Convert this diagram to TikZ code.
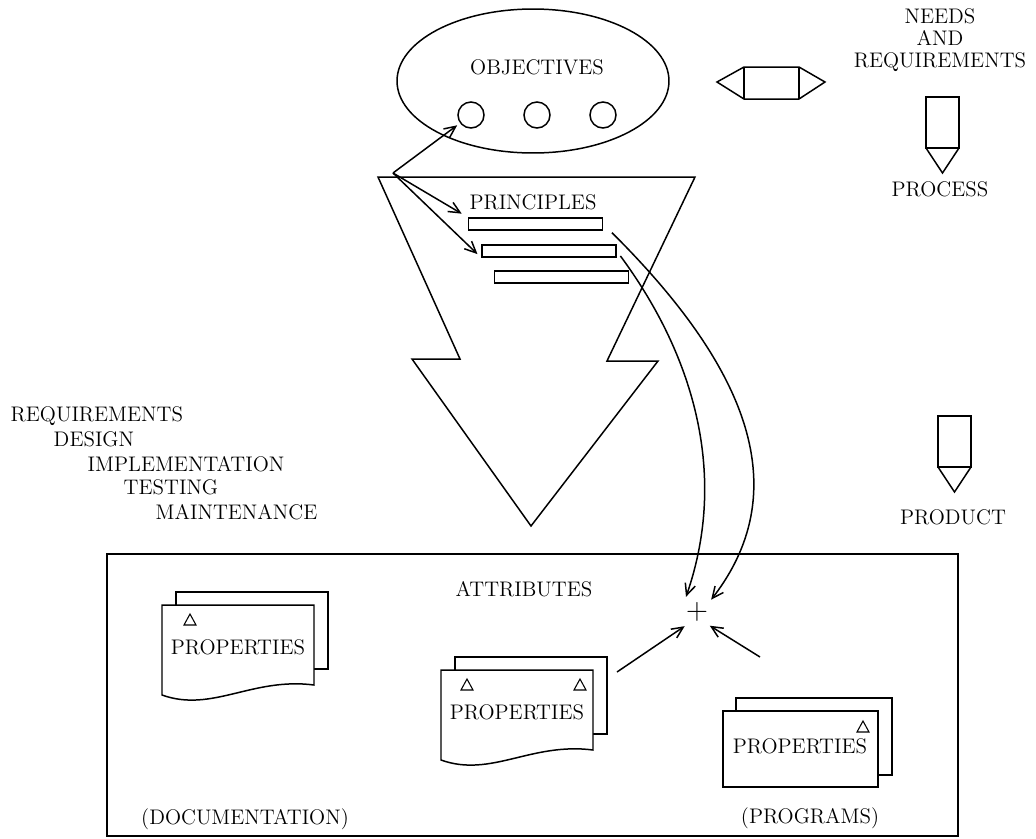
\documentclass[tikz,border=0pt]{standalone}
\usepackage{amsmath}
\usetikzlibrary{positioning}
\usetikzlibrary{calc}
\usetikzlibrary{arrows.meta}
\usetikzlibrary{shapes.geometric}

\tikzset{
  tri/.pic={\draw[line width=0.6pt] (-6,5) -- (6,5) -- (0,-6) -- cycle;},
  pencil/.pic={\draw (0,0) rectangle (33,51); \draw (0,51) -- (16.5,76) -- (33,51);},
  wavydoc/.pic={
    \draw[fill=white] (14,-13) rectangle (166,64);
    \draw[fill=white] (0,0) -- (152,0) -- (152,80) .. controls (90,72) and (50,108) .. (0,90) -- cycle;},
  flatdoc/.pic={
    \draw[fill=white] (13,-13) rectangle (169,64);
    \draw[fill=white] (0,0) rectangle (155,76);}
}

\begin{document}
\begin{tikzpicture}[x=0.02cm, y=-0.02cm, line width=0.85pt,
    txt/.style={font=\large, inner sep=0pt, text height=1.6ex, text depth=0pt},
    bar/.style={draw, rectangle, minimum width=2.68cm, minimum height=0.24cm, inner sep=0pt},
    dot/.style={draw, circle, minimum size=0.52cm, inner sep=0pt},
    arr/.style={-{Straight Barb[length=6.5pt,width=6pt]}}]
        \useasboundingbox (0,0) rectangle (1036,839);

        % Draw the objectives ellipse and its three circles
        \node[draw, ellipse, minimum width=5.44cm, minimum height=2.88cm] (obj) at (533,81) {};
        \node[txt] (objt) at (537,68) {OBJECTIVES};
        \foreach \i/\x in {1/471, 2/537, 3/603}
        {
          \node[dot] (c\i) at (\x,115) {};
        }

        % Draw the big process arrow
        \draw (378,177) -- (695,177) -- (607,361) -- (658,361) -- (531,526) -- (412,359) -- (460,359) -- cycle;

        % Principles and their bars
        \node[txt] (prt) at (533,203) {PRINCIPLES};
        \node[bar] (p1) at (535.5,224) {};
        \node[bar] (p2) at (549,251) {};
        \node[bar] (p3) at (561.5,277) {};

        % Fork of arrows
        \coordinate (f) at (393,173);
        \draw[arr, shorten >=2pt] (f) -- (c1);
        \draw[arr, shorten >=4pt] (f) -- (p1.north west);
        \draw[arr, shorten >=3pt] (f) -- (p2.south west);

        % Product box
        \draw[line width=0.6pt] (107,554) rectangle (958,836);
        \node[txt] (att) at (524,590) {ATTRIBUTES};
        \node[circle, inner sep=0pt, minimum size=0.72cm, font=\LARGE] (plus) at (697,612) {+};

        % Curved arrows from the principles
        \draw[arr, shorten <=7pt] (p1.east) .. controls (740,360) and (800,485) .. (plus.41);
        \draw[arr, shorten <=3.5pt] (p2.east) .. controls (690,350) and (730,470) .. (plus.126);

        % Documents
        \pic at (162,605) {wavydoc};
        \pic at (190,620) {tri};
        \node[txt] (d1) at (238,648) {PROPERTIES};

        \pic at (441,670) {wavydoc};
        \pic at (467,685) {tri};
        \pic at (580,685) {tri};
        \node[txt] (d2) at (517,713) {PROPERTIES};

        \pic at (723,711) {flatdoc};
        \pic at (863,727) {tri};
        \node[txt] (d3) at (800,747) {PROPERTIES};

        \coordinate (d2a) at (617,672);
        \coordinate (d3a) at (760,657);
        \draw[arr] (d2a) -- (plus.229);
        \draw[arr] (d3a) -- (plus.313);

        \node[txt] (doc) at (245,818) {(DOCUMENTATION)};
        \node[txt] (prog) at (810,817) {(PROGRAMS)};

        % Phases on the left
        \foreach \t/\x/\y [count=\i] in {REQUIREMENTS/10/415, DESIGN/53/440, IMPLEMENTATION/87/465, TESTING/123/488, MAINTENANCE/155/513}
        {
          \node[txt, anchor=west] (ph\i) at (\x,\y) {\t};
        }

        % Legend
        \draw (717,82) -- (744,67) -- (799,67) -- (825,82) -- (799,99) -- (744,99) -- cycle;
        \draw (744,67) -- (744,99) (799,67) -- (799,99);
        \node[txt] (nd) at (940,17) {NEEDS};
        \node[txt] (and) at (940,39) {AND};
        \node[txt] (req) at (940,61) {REQUIREMENTS};
        \pic at (926,97) {pencil};
        \node[txt] (proc) at (940,190) {PROCESS};
        \pic at (938,416) {pencil};
        \node[txt] (prod) at (953,518) {PRODUCT};
      \end{tikzpicture}
\end{document}
